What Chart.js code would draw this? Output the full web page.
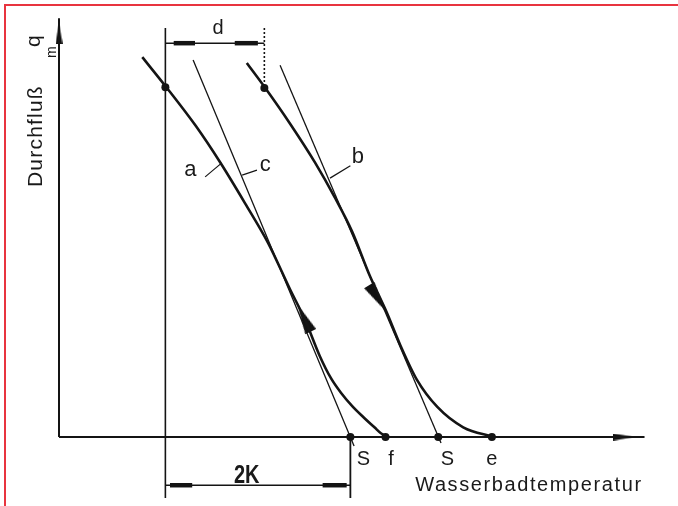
<!DOCTYPE html>
<html><head><meta charset="utf-8">
<script src="https://cdn.jsdelivr.net/npm/chart.js@4.4.1/dist/chart.umd.min.js"></script>
<style>
html,body{margin:0;padding:0;background:#fff;}
#wrap{position:relative;width:678px;height:506px;overflow:hidden;background:#fff;}
#frame{position:absolute;left:4px;top:4px;right:-10px;bottom:-10px;border-left:2px solid #e8343f;border-top:2px solid #e8343f;pointer-events:none;}
canvas{display:block;}
</style></head><body>
<div id="wrap"><canvas id="c" width="678" height="506"></canvas><div id="frame"></div></div>
<script>
// ---- data: T = temperature in K measured from the flow axis, Q = flow in % of axis height ----
const curveA_T = [0.90, 1.16, 1.48, 1.74, 2.01, 2.26, 2.50, 2.66, 2.82, 2.94, 3.05, 3.17, 3.30, 3.41, 3.48, 3.56];
const curveA_Q = [89.8, 82.7, 73.5, 65.0, 55.3, 45.9, 34.8, 27.7, 19.1, 13.9, 10.4, 7.3, 4.5, 2.3, 0.9, 0];
const curveB_T = [2.03, 2.23, 2.50, 2.77, 2.98, 3.17, 3.36, 3.54, 3.69, 3.87, 4.09, 4.37, 4.70];
const curveB_Q = [88.4, 82.5, 74.0, 64.8, 56.7, 48.5, 38.1, 29.6, 21.7, 13.5, 7.1, 2.3, 0];
const tangentC_T = [1.45, 3.19];
const tangentC_Q = [89.1, -2.1];
const tangentB_T = [2.39, 4.13];
const tangentB_Q = [87.9, -1.4];
const axisPoints_T = [3.15, 3.53, 4.10, 4.68];          // S, f, S, e
const axisPoints_Q = [0, 0, 0, 0];
const curvePoints_T = [1.15, 2.22];                      // start points on a and b
const curvePoints_Q = [82.7, 82.5];
const dimD_T = [1.15, 2.22];  const dimD_Q = 93.1;       // dimension d
const dim2K_T = [1.15, 3.15]; const dim2K_Q = -11.4;     // dimension 2K
const extTop_Q = 96.7, extBottom_Q = -14.4;
const axisX_max = 6.33, axisY_max = 99;
const arrowA = {T: 2.65, Q: 28.1, rot: -26};
const arrowB = {T: 3.44, Q: 32.9, rot: 148};
const leaderA_T = [1.58, 1.76], leaderA_Q = [61.5, 64.8];
const leaderC_T = [1.98, 2.14], leaderC_Q = [61.9, 63.1];
const leaderB_T = [2.93, 3.15], leaderB_Q = [61.2, 64.1];

const pts = (xs, ys) => xs.map((v, i) => ({x: v, y: Array.isArray(ys) ? ys[i] : ys}));

function makeArrow(w, h){
  const c = document.createElement('canvas'); c.width = w; c.height = h;
  const g = c.getContext('2d'); g.fillStyle = '#111';
  g.beginPath(); g.moveTo(w/2, 0); g.lineTo(w, h); g.lineTo(0, h); g.closePath(); g.fill();
  return c;
}
const bigArrow = makeArrow(12, 30);
const axisArrow = makeArrow(7, 22);

const INK = '#141414';
const line = (data, w, extra) => Object.assign({data, showLine: true, borderColor: INK, borderWidth: w, pointRadius: 0, clip: false, fill: false}, extra || {});

const annotations = [
  {text: 'a', T: 1.42, Q: 61.7, font: '22px "Liberation Sans"'},
  {text: 'c', T: 2.23, Q: 62.9, font: '22px "Liberation Sans"'},
  {text: 'b', T: 3.23, Q: 64.8, font: '22px "Liberation Sans"'},
  {text: 'd', T: 1.72, Q: 95.3, font: '20px "Liberation Sans"'},
  {text: 'S', T: 3.29, Q: -6.6, font: '20px "Liberation Sans"'},
  {text: 'f', T: 3.59, Q: -6.6, font: '20px "Liberation Sans"'},
  {text: 'S', T: 4.20, Q: -6.6, font: '20px "Liberation Sans"'},
  {text: 'e', T: 4.68, Q: -6.6, font: '20px "Liberation Sans"'},
  {text: '2K', T: 2.03, Q: -10.9, font: 'bold 25px "Liberation Sans"', sx: 0.8},
  {text: 'Wasserbadtemperatur', T: 6.31, Q: -12.8, font: '20px "Liberation Sans"', align: 'right', ls: '1.6px'},
  {text: 'Durchfluß', T: -0.184, Q: 59.1, font: '21px "Liberation Sans"', align: 'left', rot: -90, ls: '1.2px'},
  {text: 'q', T: -0.205, Q: 92.2, font: '21px "Liberation Sans"', align: 'left', rot: -90},
  {text: 'm', T: -0.032, Q: 89.6, font: '14px "Liberation Sans"', align: 'left', rot: -90}
];

const textPlugin = {
  id: 'texts',
  afterDatasetsDraw(chart){
    const {ctx, scales: {x, y}} = chart;
    for (const t of annotations){
      ctx.save();
      ctx.translate(x.getPixelForValue(t.T), y.getPixelForValue(t.Q));
      if (t.rot) ctx.rotate(t.rot * Math.PI / 180);
      if (t.sx) ctx.scale(t.sx, 1);
      ctx.font = t.font; ctx.fillStyle = '#1a1a1a';
      ctx.textAlign = t.align || 'center'; ctx.textBaseline = 'alphabetic';
      ctx.letterSpacing = t.ls || '0px';
      ctx.fillText(t.text, 0, 0);
      ctx.restore();
    }
  }
};

const datasets = [
  // axes
  line(pts([0, 0], [0, axisY_max]), 2),
  line(pts([0, axisX_max], [0, 0]), 2),
  {data: [{x: 0, y: 95.5}], pointStyle: axisArrow, rotation: 0, pointRadius: 8, clip: false, showLine: false},
  {data: [{x: 6.11, y: 0}], pointStyle: axisArrow, rotation: 90, pointRadius: 8, clip: false, showLine: false},
  // curves a and b
  line(pts(curveA_T, curveA_Q), 2.6, {cubicInterpolationMode: 'monotone'}),
  line(pts(curveB_T, curveB_Q), 2.6, {cubicInterpolationMode: 'monotone'}),
  // tangents
  line(pts(tangentC_T, tangentC_Q), 1.3),
  line(pts(tangentB_T, tangentB_Q), 1.3),
  // leaders
  line(pts(leaderA_T, leaderA_Q), 1.2),
  line(pts(leaderC_T, leaderC_Q), 1.2),
  line(pts(leaderB_T, leaderB_Q), 1.2),
  // dimension lines
  line(pts([dimD_T[0], dimD_T[0]], [extTop_Q, extBottom_Q]), 1.6),
  line(pts([dimD_T[1], dimD_T[1]], [extTop_Q, curvePoints_Q[1]]), 1.6, {borderDash: [2, 2]}),
  line(pts(dimD_T, [dimD_Q, dimD_Q]), 1.4),
  line(pts([1.24, 1.47], [dimD_Q, dimD_Q]), 4.5),
  line(pts([1.90, 2.15], [dimD_Q, dimD_Q]), 4.5),
  line(pts([dim2K_T[1], dim2K_T[1]], [0, extBottom_Q]), 1.8),
  line(pts(dim2K_T, [dim2K_Q, dim2K_Q]), 1.4),
  line(pts([1.20, 1.44], [dim2K_Q, dim2K_Q]), 4.5),
  line(pts([2.85, 3.11], [dim2K_Q, dim2K_Q]), 4.5),
  // direction arrows
  {data: [{x: arrowA.T, y: arrowA.Q}], pointStyle: bigArrow, rotation: arrowA.rot, pointRadius: 10, clip: false, showLine: false},
  {data: [{x: arrowB.T, y: arrowB.Q}], pointStyle: bigArrow, rotation: arrowB.rot, pointRadius: 10, clip: false, showLine: false},
  // dots
  {data: pts(axisPoints_T, axisPoints_Q), pointRadius: 4, pointStyle: 'circle', backgroundColor: INK, borderColor: INK, borderWidth: 0, clip: false, showLine: false},
  {data: pts(curvePoints_T, curvePoints_Q), pointRadius: 4, pointStyle: 'circle', backgroundColor: INK, borderColor: INK, borderWidth: 0, clip: false, showLine: false}
];

new Chart(document.getElementById('c'), {
  type: 'scatter',
  data: {datasets},
  options: {
    responsive: false, animation: false, devicePixelRatio: 1,
    layout: {padding: {left: 59, right: 27, top: 14, bottom: 69}},
    plugins: {legend: {display: false}, tooltip: {enabled: false}},
    scales: {
      x: {type: 'linear', min: 0, max: 6.4, display: false},
      y: {type: 'linear', min: 0, max: 100, display: false}
    }
  },
  plugins: [textPlugin]
});
</script>
</body></html>
